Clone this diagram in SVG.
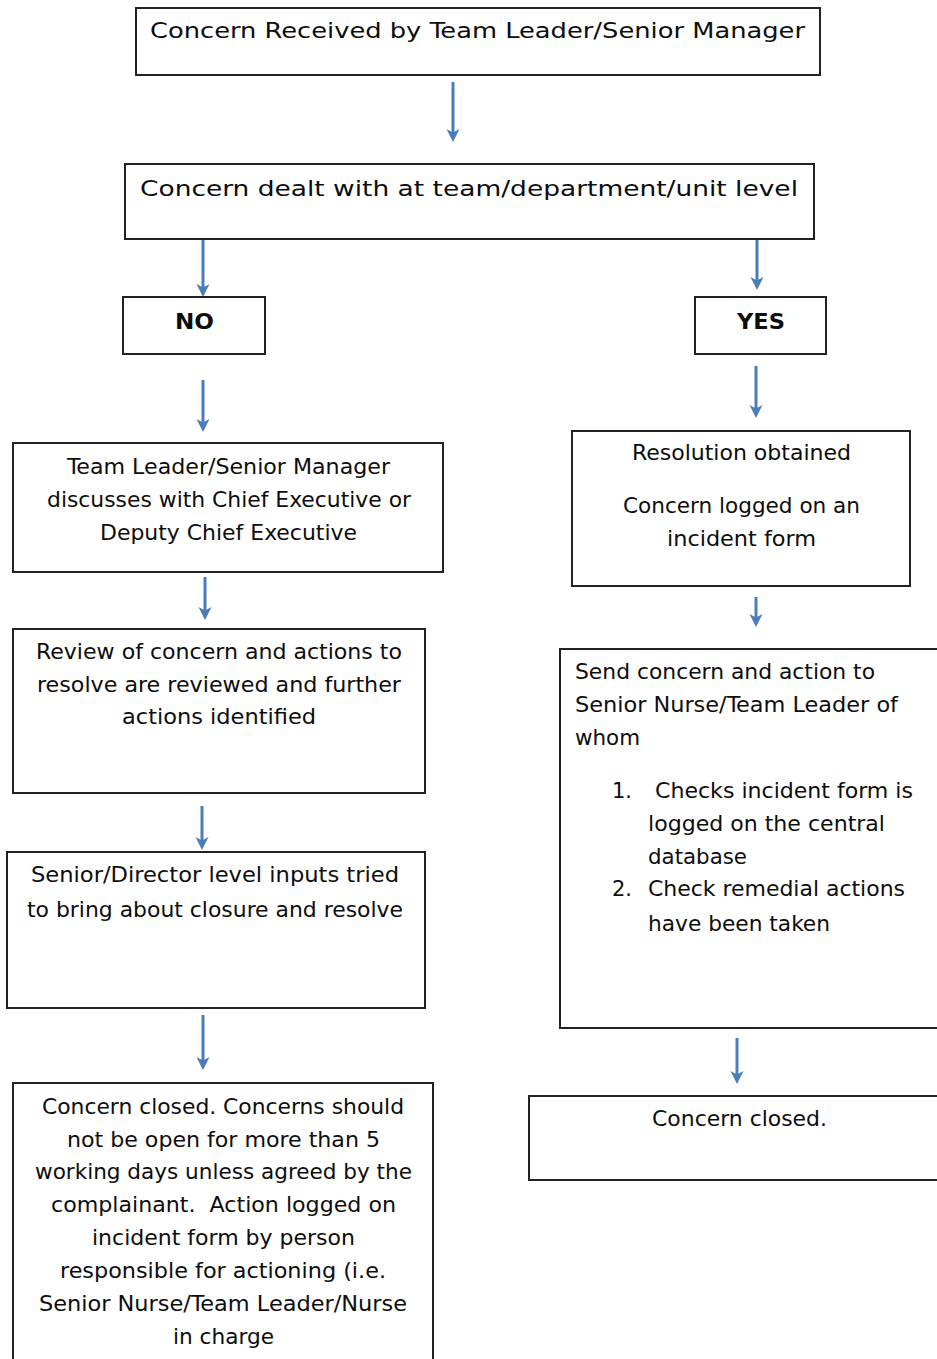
<svg xmlns="http://www.w3.org/2000/svg" width="937" height="1359" viewBox="0 0 937 1359">
<style>
.box{fill:#fff;stroke:#222;stroke-width:2}
.t{font-family:"DejaVu Sans Condensed","DejaVu Sans",sans-serif;font-size:22px;fill:#0d0d0d;text-anchor:middle}
.l{text-anchor:start}
.b{font-weight:bold}
.arr{stroke:#4a7ebb;stroke-width:3;fill:none;marker-end:url(#ah)}
</style>
<defs>
<marker id="ah" markerUnits="userSpaceOnUse" markerWidth="18" markerHeight="18" viewBox="-1 -9 18 18" refX="6" refY="0" orient="auto">
<path d="M0,-6.5 L13,0 L0,6.5 L3.5,0 Z" fill="#4a7ebb"/>
</marker>
</defs>
<rect width="937" height="1359" fill="#fff"/>
<g id="connectors">
<line class="arr" x1="453" y1="82" x2="453" y2="135"/>
<line class="arr" x1="203" y1="240" x2="203" y2="290"/>
<line class="arr" x1="757" y1="237" x2="757" y2="283"/>
<line class="arr" x1="203" y1="380" x2="203" y2="425"/>
<line class="arr" x1="756" y1="366" x2="756" y2="411"/>
<line class="arr" x1="205" y1="577" x2="205" y2="613"/>
<line class="arr" x1="756" y1="597" x2="756" y2="620"/>
<line class="arr" x1="202" y1="806" x2="202" y2="843"/>
<line class="arr" x1="203" y1="1015" x2="203" y2="1063"/>
<line class="arr" x1="737" y1="1038" x2="737" y2="1077"/>
</g>
<g id="n1">
<rect class="box" x="136" y="8" width="684" height="67"/>
<text class="t" x="477.5" y="38" textLength="655" lengthAdjust="spacingAndGlyphs">Concern Received by Team Leader/Senior Manager</text>
</g>
<g id="n2">
<rect class="box" x="125" y="164" width="689" height="75"/>
<text class="t" x="469" y="196" textLength="658" lengthAdjust="spacingAndGlyphs">Concern dealt with at team/department/unit level</text>
</g>
<g id="no">
<rect class="box" x="123" y="297" width="142" height="57"/>
<text class="t b" x="194.5" y="329" textLength="39" lengthAdjust="spacingAndGlyphs">NO</text>
</g>
<g id="yes">
<rect class="box" x="695" y="297" width="131" height="57"/>
<text class="t b" x="761" y="329" textLength="48" lengthAdjust="spacingAndGlyphs">YES</text>
</g>
<g id="n3">
<rect class="box" x="13" y="443" width="430" height="129"/>
<text class="t" x="228.5" y="474" textLength="323" lengthAdjust="spacingAndGlyphs">Team Leader/Senior Manager</text>
<text class="t" x="229" y="507" textLength="364" lengthAdjust="spacingAndGlyphs">discusses with Chief Executive or</text>
<text class="t" x="228.5" y="540" textLength="257" lengthAdjust="spacingAndGlyphs">Deputy Chief Executive</text>
</g>
<g id="n4">
<rect class="box" x="572" y="431" width="338" height="155"/>
<text class="t" x="741.5" y="460" textLength="219" lengthAdjust="spacingAndGlyphs">Resolution obtained</text>
<text class="t" x="741.5" y="513" textLength="237" lengthAdjust="spacingAndGlyphs">Concern logged on an</text>
<text class="t" x="741.5" y="546" textLength="149" lengthAdjust="spacingAndGlyphs">incident form</text>
</g>
<g id="n5">
<rect class="box" x="13" y="629" width="412" height="164"/>
<text class="t" x="219" y="659" textLength="366" lengthAdjust="spacingAndGlyphs">Review of concern and actions to</text>
<text class="t" x="219" y="692" textLength="364" lengthAdjust="spacingAndGlyphs">resolve are reviewed and further</text>
<text class="t" x="219" y="724" textLength="194" lengthAdjust="spacingAndGlyphs">actions identified</text>
</g>
<g id="n6">
<rect class="box" x="560" y="649" width="382" height="379"/>
<text class="t l" x="575" y="679" textLength="300" lengthAdjust="spacingAndGlyphs">Send concern and action to</text>
<text class="t l" x="575" y="712" textLength="323" lengthAdjust="spacingAndGlyphs">Senior Nurse/Team Leader of</text>
<text class="t l" x="575" y="745" textLength="65" lengthAdjust="spacingAndGlyphs">whom</text>
<text class="t l" x="612" y="798" textLength="20" lengthAdjust="spacingAndGlyphs">1.</text>
<text class="t l" x="655" y="798" textLength="258" lengthAdjust="spacingAndGlyphs">Checks incident form is</text>
<text class="t l" x="648" y="831" textLength="237" lengthAdjust="spacingAndGlyphs">logged on the central</text>
<text class="t l" x="648" y="864" textLength="99" lengthAdjust="spacingAndGlyphs">database</text>
<text class="t l" x="612" y="896" textLength="20" lengthAdjust="spacingAndGlyphs">2.</text>
<text class="t l" x="648" y="896" textLength="257" lengthAdjust="spacingAndGlyphs">Check remedial actions</text>
<text class="t l" x="648" y="931" textLength="182" lengthAdjust="spacingAndGlyphs">have been taken</text>
</g>
<g id="n7">
<rect class="box" x="7" y="852" width="418" height="156"/>
<text class="t" x="215" y="882" textLength="368" lengthAdjust="spacingAndGlyphs">Senior/Director level inputs tried</text>
<text class="t" x="215" y="917" textLength="376" lengthAdjust="spacingAndGlyphs">to bring about closure and resolve</text>
</g>
<g id="n8">
<rect class="box" x="13" y="1083" width="420" height="290"/>
<text class="t" x="223" y="1114" textLength="362" lengthAdjust="spacingAndGlyphs">Concern closed. Concerns should</text>
<text class="t" x="223.5" y="1147" textLength="313" lengthAdjust="spacingAndGlyphs">not be open for more than 5</text>
<text class="t" x="223.5" y="1179" textLength="377" lengthAdjust="spacingAndGlyphs">working days unless agreed by the</text>
<text class="t" x="223.5" y="1212" textLength="345" lengthAdjust="spacingAndGlyphs" xml:space="preserve">complainant.  Action logged on</text>
<text class="t" x="223.5" y="1245" textLength="263" lengthAdjust="spacingAndGlyphs">incident form by person</text>
<text class="t" x="223" y="1278" textLength="326" lengthAdjust="spacingAndGlyphs">responsible for actioning (i.e.</text>
<text class="t" x="223" y="1311" textLength="368" lengthAdjust="spacingAndGlyphs">Senior Nurse/Team Leader/Nurse</text>
<text class="t" x="223.5" y="1344" textLength="101" lengthAdjust="spacingAndGlyphs">in charge</text>
</g>
<g id="n9">
<rect class="box" x="529" y="1096" width="413" height="84"/>
<text class="t" x="739.5" y="1126" textLength="175" lengthAdjust="spacingAndGlyphs">Concern closed.</text>
</g>
</svg>
